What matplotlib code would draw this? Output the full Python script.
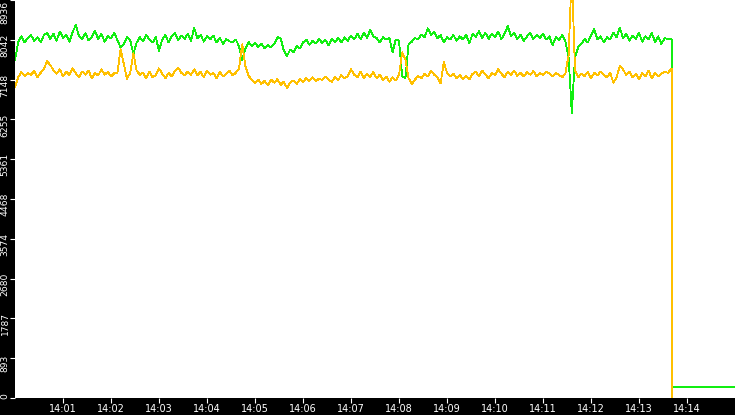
import numpy as np
import matplotlib
matplotlib.use("Agg")
import matplotlib.pyplot as plt
from matplotlib.transforms import ScaledTranslation

# sampling: one reading every 4 s, starting 14:00:00
sample_step = 4

green_values = [
    7580, 8000, 8120, 7980, 8080, 8150, 8010, 8100, 7990, 8140,
    8200, 8060, 8180, 8020, 8230, 8090, 8150, 8000, 8220, 8370,
    8120, 8060, 8190, 8030, 8110, 8240, 8060, 8180, 8000, 8120,
    8070, 8200, 8040, 7870, 7950, 8100, 8030, 7720, 7980, 8100,
    8010, 8150, 8050, 7980, 8100, 7790, 8050, 8150, 7980, 8120,
    8200, 8030, 8140, 8060, 8180, 8020, 8310, 8080, 8150, 8000,
    8120, 8050, 8140, 7980, 8090, 7950, 8060, 8010, 7980, 8050,
    7900, 7580, 7850, 7990, 7900, 7980, 7880, 7960, 7850, 7930,
    7870, 7950, 8100, 8080, 7800, 7680, 7820, 7760, 7900, 7850,
    7980, 8050, 7930, 8020, 7960, 8060, 7970, 8040, 7920, 8060,
    7990, 8080, 7980, 8100, 8020, 8140, 8050, 8180, 8060, 8200,
    8090, 8260, 8120, 8080, 7980, 8100, 8050, 8080, 7760, 8050,
    8020, 7220, 7180, 7950, 8000, 8080, 8050, 8160, 8100, 8300,
    8150, 8220, 8080, 8150, 7980, 8100, 8050, 8150, 8020, 8120,
    8050, 8160, 7960, 8180, 8100, 8240, 8080, 8200, 8060, 8180,
    8110, 8220, 8060, 8180, 8350, 8120, 8200, 8060, 8160, 8020,
    8120, 8200, 8060, 8150, 8080, 8180, 8050, 8120, 7920, 8100,
    8040, 8150, 8000, 7650, 6400, 7650, 7880, 7950, 8060, 7980,
    8150, 8280, 8050, 8120, 7980, 8100, 8050, 8200, 8100, 8320,
    8080, 8180, 8020, 8140, 8060, 8200, 8000, 8120, 8050, 8200,
    7990, 8120, 7950, 8080, 8060, 8050,
]

yellow_values = [
    6980, 7200, 7320, 7230, 7300, 7250, 7350, 7200, 7300, 7380,
    7560, 7480, 7360, 7280, 7380, 7220, 7330, 7250, 7400, 7290,
    7200, 7330, 7260, 7350, 7180, 7300, 7240, 7380, 7260, 7320,
    7220, 7290, 7300, 7830, 7500, 7170, 7300, 7740, 7350, 7260,
    7300, 7180, 7330, 7200, 7250, 7400, 7280, 7180, 7300, 7220,
    7350, 7420, 7300, 7250, 7330, 7260, 7380, 7250, 7320, 7200,
    7350, 7260, 7300, 7180, 7330, 7220, 7280, 7350, 7240, 7300,
    7400, 7940, 7450, 7230, 7150, 7080, 7150, 7050, 7120, 7020,
    7150, 7080, 7160, 7030, 7100, 6960, 7080, 7130, 7050, 7160,
    7100, 7180, 7120, 7200, 7110, 7170, 7140, 7220, 7150, 7100,
    7200, 7140, 7250, 7180, 7220, 7380, 7260, 7200, 7330, 7180,
    7280, 7210, 7320, 7180, 7260, 7130, 7220, 7100, 7200, 7130,
    7250, 7760, 7600, 7180, 7050, 7150, 7230, 7180, 7280, 7220,
    7350, 7260, 7200, 7060, 7540, 7300, 7220, 7280, 7180, 7250,
    7160, 7230, 7150, 7280, 7320, 7220, 7350, 7260, 7180, 7300,
    7250, 7380, 7280, 7200, 7330, 7260, 7350, 7230, 7300, 7220,
    7320, 7260, 7340, 7220, 7300, 7250, 7330, 7280, 7220, 7300,
    7250, 7200, 7280, 7700, 9600, 7350, 7200, 7280, 7230, 7320,
    7180, 7300, 7240, 7330, 7260, 7200, 7300, 7080, 7200, 7450,
    7380, 7250, 7330, 7200, 7280, 7160, 7300, 7220, 7350, 7180,
    7300, 7220, 7280, 7330, 7300, 7380,
]

# after the feed drops out (seconds after 14:00)
green_tail_t = [821, 821, 821, 822, 900]
green_tail_v = [8050, 3650, 80, 240, 240]
yellow_tail_t = [821, 821]
yellow_tail_v = [7380, 0]

ytick_labels = ['0', '893', '1787', '2680', '3574', '4468', '5361',
                '6255', '7148', '8042', '8936']
xtick_labels = ['14:01', '14:02', '14:03', '14:04', '14:05', '14:06', '14:07',
                '14:08', '14:09', '14:10', '14:11', '14:12', '14:13', '14:14']


def main():
    t = np.arange(len(green_values)) * sample_step
    g_t = np.concatenate([t, green_tail_t])
    g_v = np.concatenate([green_values, green_tail_v])
    y_t = np.concatenate([t, yellow_tail_t])
    y_v = np.concatenate([yellow_values, yellow_tail_v])

    fig = plt.figure(figsize=(7.35, 4.15), dpi=100, facecolor='black')
    ax = fig.add_axes([15 / 735, 17 / 415, 720 / 735, 398 / 415])
    ax.set_facecolor('white')

    ax.plot(g_t, g_v, color='#11ee11', lw=0.6, antialiased=False)
    ax.plot(y_t, y_v, color='#ffc000', lw=0.6, antialiased=False)

    yticks = [float(s) for s in ytick_labels]
    ax.set_ylim(0, yticks[-1])
    ax.set_xlim(0, 900)

    xticks = [(int(s.split(':')[1])) * 60 for s in xtick_labels]
    ax.set_xticks(xticks)
    ax.set_xticklabels(xtick_labels)
    ax.set_yticks(yticks)
    ax.set_yticklabels(ytick_labels, rotation=90, va='center')

    for sp in ax.spines.values():
        sp.set_visible(False)

    ax.tick_params(axis='x', colors='white', labelsize=7, length=3.6,
                   width=0.8, pad=1)
    ax.tick_params(axis='y', colors='white', labelsize=6.6, length=3.6,
                   width=0.8, pad=0.3)

    # labels sit a little below their tick, kept inside the strip at the ends
    labels = ax.get_yticklabels()
    for i, lab in enumerate(labels):
        if i == 0:
            dy = 1.5
        elif i == len(labels) - 1:
            dy = -12
        else:
            dy = -5.5
        lab.set_transform(lab.get_transform() +
                          ScaledTranslation(0, dy / 100, fig.dpi_scale_trans))

    fig.savefig('out.png', dpi=100, facecolor='black')


if __name__ == "__main__":
    main()
